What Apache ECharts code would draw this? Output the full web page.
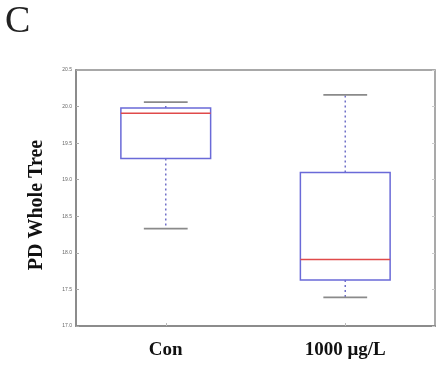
<!DOCTYPE html>
<html>
<head>
<meta charset="utf-8">
<script src="https://cdn.jsdelivr.net/npm/echarts@6/dist/echarts.min.js"></script>
<style>
  html, body { margin: 0; padding: 0; background: #fff; }
  #chart { width: 439px; height: 366px; }
</style>
</head>
<body>
<div id="chart"></div>
<script>
// Groups and their five-number summaries (min, Q1, median, Q3, max)
const categories = ['Con', '1000 μg/L'];
const whiskerLow = [18.33, 17.39];
const quartile1 = [19.29, 17.63];
const medians = [19.91, 17.91];
const quartile3 = [19.98, 19.10];
const whiskerHigh = [20.06, 20.16];
const yTicks = [17.0, 17.5, 18.0, 18.5, 19.0, 19.5, 20.0, 20.5];

const boxData = categories.map((c, i) => [i, whiskerLow[i], quartile1[i], medians[i], quartile3[i], whiskerHigh[i]]);

const chart = echarts.init(document.getElementById('chart'));

function renderBox(params, api) {
  const idx = api.value(0);
  const band = api.size([1, 0])[0];
  const halfBox = band * 0.25;
  const halfCap = band * 0.122;
  const pMin = api.coord([idx, api.value(1)]);
  const pQ1 = api.coord([idx, api.value(2)]);
  const pMed = api.coord([idx, api.value(3)]);
  const pQ3 = api.coord([idx, api.value(4)]);
  const pMax = api.coord([idx, api.value(5)]);
  const x = pMed[0];
  const whiskerStyle = { stroke: '#7070c8', lineWidth: 1.5, lineDash: [2, 3] };
  const capStyle = { stroke: '#8a8a8a', lineWidth: 1.8 };
  return {
    type: 'group',
    children: [
      { type: 'line', shape: { x1: x, y1: pQ3[1], x2: x, y2: pMax[1] }, style: whiskerStyle },
      { type: 'line', shape: { x1: x, y1: pQ1[1], x2: x, y2: pMin[1] }, style: whiskerStyle },
      { type: 'line', shape: { x1: x - halfCap, y1: pMax[1], x2: x + halfCap, y2: pMax[1] }, style: capStyle },
      { type: 'line', shape: { x1: x - halfCap, y1: pMin[1], x2: x + halfCap, y2: pMin[1] }, style: capStyle },
      { type: 'rect', shape: { x: x - halfBox, y: pQ3[1], width: halfBox * 2, height: pQ1[1] - pQ3[1] },
        style: { fill: 'rgba(255,255,255,0)', stroke: '#6a6ad8', lineWidth: 1.5 } },
      { type: 'line', shape: { x1: x - halfBox, y1: pMed[1], x2: x + halfBox, y2: pMed[1] },
        style: { stroke: '#e04a4a', lineWidth: 1.5 } }
    ]
  };
}

chart.setOption({
  animation: false,
  backgroundColor: '#ffffff',
  title: {
    text: 'C',
    left: 0,
    top: -2,
    textStyle: { fontFamily: 'Liberation Serif', fontWeight: 'normal', fontSize: 38, color: '#222' }
  },
  grid: {
    left: 76, right: 4, top: 70, bottom: 40,
    show: true, borderColor: '#8c8c8c', borderWidth: 1.5, backgroundColor: 'transparent'
  },
  xAxis: {
    type: 'category',
    data: categories,
    boundaryGap: true,
    axisLine: { lineStyle: { color: '#8c8c8c', width: 2 } },
    axisTick: { show: true, alignWithLabel: true, inside: true, length: 3, lineStyle: { color: '#bbb' } },
    axisLabel: {
      margin: 15,
      fontFamily: 'Liberation Serif',
      fontWeight: 'bold',
      fontSize: 19,
      color: '#111'
    }
  },
  yAxis: [{
    type: 'value',
    min: 17,
    max: 20.5,
    interval: 0.5,
    name: 'PD Whole Tree',
    nameLocation: 'middle',
    nameGap: 29,
    nameTextStyle: {
      fontFamily: 'Liberation Serif', fontWeight: 'bold', fontSize: 20, color: '#111',
      padding: [0, 14, 0, 0]
    },
    splitLine: { show: false },
    axisLine: { show: true, lineStyle: { color: '#8c8c8c', width: 2 } },
    axisTick: { show: true, inside: true, length: 3, lineStyle: { color: '#aaa' } },
    axisLabel: {
      margin: 4,
      fontSize: 5,
      color: '#666',
      formatter: v => yTicks.indexOf(v) >= 0 ? v.toFixed(1) : ''
    }
  }, {
    type: 'value',
    position: 'right',
    min: 17,
    max: 20.5,
    interval: 0.5,
    splitLine: { show: false },
    axisLine: { show: true, lineStyle: { color: '#aaa', width: 1.5 } },
    axisTick: { show: true, inside: true, length: 3, lineStyle: { color: '#ccc' } },
    axisLabel: { show: false }
  }],
  series: [{
    type: 'custom',
    renderItem: renderBox,
    encode: { x: 0, y: [1, 2, 3, 4, 5] },
    data: boxData
  }]
});
</script>
</body>
</html>
